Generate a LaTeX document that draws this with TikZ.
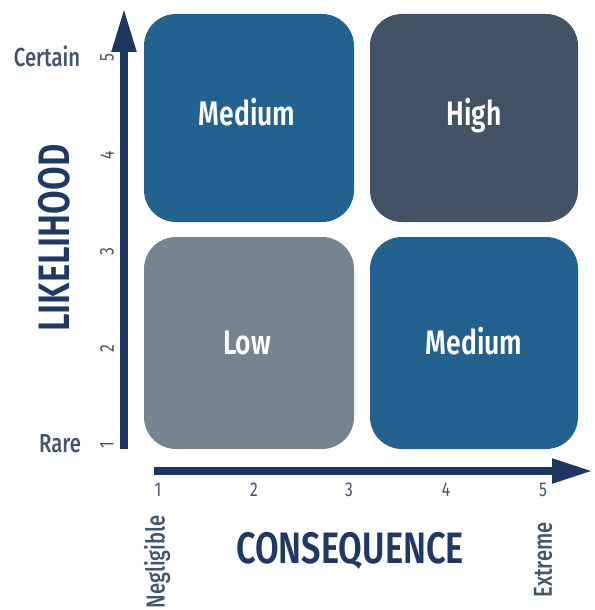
\documentclass[tikz,border=0pt]{standalone}
\usepackage{fontspec}
\usetikzlibrary{arrows.meta}
\newfontfamily\condb[FakeStretch=0.78]{Fira Sans SemiBold}
\newfontfamily\condm[FakeStretch=0.78]{Fira Sans Medium}
\newfontfamily\condr[FakeStretch=0.78]{Fira Sans}
\definecolor{medc}{HTML}{23618F}
\definecolor{highc}{HTML}{435366}
\definecolor{lowc}{HTML}{76848F}
\definecolor{axisc}{HTML}{1D3761}
\definecolor{greyc}{HTML}{44546A}
\definecolor{titlec}{HTML}{1F3864}
\tikzset{
  cell/.style={fill=#1, draw=none, rounded corners=32pt, inner sep=0pt},
  celltext/.style={text=white, font=\condb\fontsize{34}{34}\selectfont, anchor=base, inner sep=0pt},
  tick/.style={text=greyc, font=\condr\fontsize{20}{20}\selectfont, inner sep=0pt},
  endlab/.style={text=greyc, font=\condm\fontsize{26}{26}\selectfont, inner sep=0pt},
  axtitle/.style={text=titlec, font=\condb\fontsize{44}{44}\selectfont, inner sep=0pt},
  axisline/.style={draw=axisc, line width=8pt},
}
\begin{document}
\begin{tikzpicture}[x=1pt,y=-1pt]
\useasboundingbox (0,0) rectangle (594,610);
% cells
\node[cell=medc, minimum width=210pt, minimum height=208pt] (c12) at (249,118) {};
\node[cell=highc, minimum width=208pt, minimum height=208pt] (c22) at (474,118) {};
\node[cell=lowc, minimum width=210pt, minimum height=212pt] (c11) at (249,343) {};
\node[cell=medc, minimum width=208pt, minimum height=212pt] (c21) at (474,343) {};
\node[celltext] (t12) at (247,125) {Medium};
\node[celltext] (t22) at (474,125) {High};
\node[celltext] (t11) at (247,354) {Low};
\node[celltext] (t21) at (474,354) {Medium};
% axes
\coordinate (yb) at (124,449);
\coordinate (yt) at (124,8);
\coordinate (xl) at (154,471);
\coordinate (xr) at (593,471);
\draw[axisline, -{Triangle[length=44pt,width=23pt]}] (yb) -- (yt);
\draw[axisline, -{Triangle[length=41pt,width=23pt]}] (xl) -- (xr);
% y ticks
\foreach \v/\yy in {5/58,4/155,3/252,2/349,1/445}
  \node[tick, rotate=90] (yt\v) at (107,\yy) {\v};
% x ticks
\foreach \v/\xx in {1/158,2/254,3/349,4/446,5/543}
  \node[tick] (xt\v) at (\xx,490) {\v};
% end labels
\node[endlab] (certain) at (47,56) {Certain};
\node[endlab] (rare) at (60,444) {Rare};
\node[endlab, rotate=90] (negl) at (157,562) {Negligible};
\node[endlab, rotate=90] (extr) at (543,560) {Extreme};
% titles
\node[axtitle, rotate=90] (lik) at (54,238) {LIKELIHOOD};
\node[axtitle] (cons) at (350,551) {CONSEQUENCE};
\end{tikzpicture}
\end{document}
